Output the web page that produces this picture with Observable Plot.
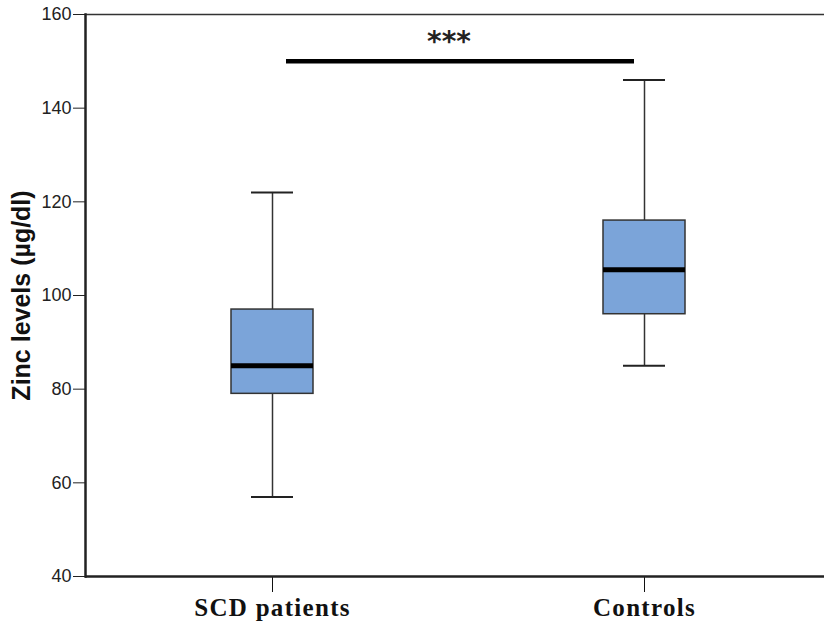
<!DOCTYPE html>
<html>
<head>
<meta charset="utf-8">
<script src="https://cdn.jsdelivr.net/npm/d3@7"></script>
<script src="https://cdn.jsdelivr.net/npm/@observablehq/plot@0.6"></script>
<style>
  html, body { margin: 0; padding: 0; background: #fff; overflow: hidden; }
  g[aria-label="x-axis tick label"] text { letter-spacing: 1.3px; }
</style>
</head>
<body>
<div id="chart"></div>
<script>
const groups = ["SCD patients", "Controls"];
const whiskerLow = [57, 85];
const q1 = [79, 96];
const median = [85, 105.5];
const q3 = [97, 116];
const whiskerHigh = [122, 146];
const yTicks = [40, 60, 80, 100, 120, 140, 160];
const sigLevel = 150;
const sigLabel = "***";
const yLabel = "Zinc levels (µg/dl)";

const boxes = groups.map((g, i) => ({
  group: g, lo: whiskerLow[i], q1: q1[i], med: median[i], q3: q3[i], hi: whiskerHigh[i]
}));
const sig = [{ from: groups[0], to: groups[1], y: sigLevel, label: sigLabel }];

const chart = Plot.plot({
  width: 824,
  height: 623,
  marginLeft: 85,
  marginRight: -6,
  marginTop: 14,
  marginBottom: 47,
  style: { background: "#fff" },
  x: { domain: groups, paddingInner: 0.78, paddingOuter: 0.39, label: null },
  y: { domain: [40, 160], label: null },
  marks: [
    Plot.axisY({ ticks: yTicks, tickSize: 12, tickPadding: 2, fontSize: 18, fontFamily: "Liberation Sans, Arial, sans-serif", color: "#222", label: null }),
    Plot.axisX({ tickSize: 16, tickPadding: 6, fontSize: 25, fontFamily: "Liberation Serif, Times New Roman, serif", fontWeight: "bold", color: "#111", label: null }),
    Plot.ruleY([160], { stroke: "#333", strokeWidth: 1.5 }),
    Plot.ruleY([40], { stroke: "#222", strokeWidth: 2.5 }),
    Plot.frame({ anchor: "left", stroke: "#222", strokeWidth: 2.5 }),
    Plot.ruleX(boxes, { x: "group", y1: "lo", y2: "q1", stroke: "#333", strokeWidth: 1.5 }),
    Plot.ruleX(boxes, { x: "group", y1: "q3", y2: "hi", stroke: "#333", strokeWidth: 1.5 }),
    Plot.tickY(boxes, { x: "group", y: "lo", stroke: "#222", strokeWidth: 2, insetLeft: 20, insetRight: 20 }),
    Plot.tickY(boxes, { x: "group", y: "hi", stroke: "#222", strokeWidth: 2, insetLeft: 20, insetRight: 20 }),
    Plot.barY(boxes, { x: "group", y1: "q1", y2: "q3", fill: "#7ba4d9", stroke: "#333", strokeWidth: 1.5 }),
    Plot.tickY(boxes, { x: "group", y: "med", stroke: "#000", strokeWidth: 5 }),
    Plot.ruleY(sig, { x1: "from", x2: "to", y: "y", stroke: "#000", strokeWidth: 4.5, insetLeft: 55, insetRight: 51 }),
    Plot.text(sig, { y: "y", dy: -19, dx: -9, text: "label", fontSize: 28, fontWeight: "bold", letterSpacing: "3px", fontFamily: "DejaVu Sans, sans-serif", fill: "#222" }),
    Plot.text([yLabel], { frameAnchor: "left", dx: -64, rotate: -90, textAnchor: "middle", text: d => d, fontSize: 25, fontWeight: "bold", fontFamily: "Liberation Sans, Arial, sans-serif", fill: "#111" })
  ]
});
document.getElementById("chart").appendChild(chart);
</script>
</body>
</html>
